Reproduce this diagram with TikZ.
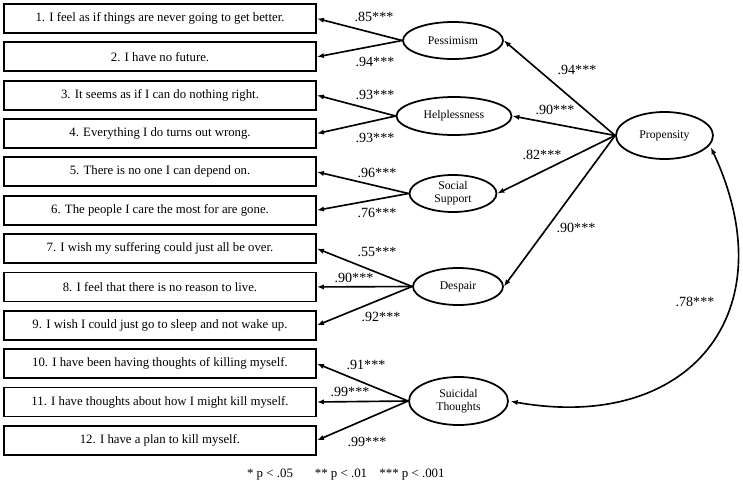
\documentclass[tikz,border=0pt]{standalone}
\usepackage{fontspec}
\setmainfont{Liberation Serif}
\usetikzlibrary{arrows.meta,shapes.geometric}

\tikzset{
  item/.style={draw,line width=1.6pt,minimum width=9.36cm,minimum height=0.87cm,inner sep=0pt,font=\fontsize{10.9}{12}\selectfont},
  latent/.style={ellipse,draw,line width=1.5pt,inner sep=0pt,align=center,font=\fontsize{10}{11}\selectfont},
  load/.style={-{Latex[length=6pt,width=4.5pt]},line width=1.4pt},
  coef/.style={inner sep=0pt,font=\fontsize{12}{12}\selectfont},
}

\begin{document}
\begin{tikzpicture}[x=0.03cm,y=0.03cm]
\useasboundingbox (0,0) rectangle (743,-494);
%item boxes, 1 unit = 1 px of the source
\pgfmathsetmacro{\bx}{160}
\pgfmathsetmacro{\by}{18.5}
\pgfmathsetmacro{\bstep}{38.35}   %distance between boxes
\foreach \n/\txt in {1/{1. I feel as if things are never going to get better.},
  2/{2. I have no future.},
  3/{3. It seems as if I can do nothing right.},
  4/{4. Everything I do turns out wrong.},
  5/{5. There is no one I can depend on.},
  6/{6. The people I care the most for are gone.},
  7/{7. I wish my suffering could just all be over.},
  8/{8. I feel that there is no reason to live.},
  9/{9. I wish I could just go to sleep and not wake up.},
  10/{10. I have been having thoughts of killing myself.},
  11/{11. I have thoughts about how I might kill myself.},
  12/{12. I have a plan to kill myself.}}{
\node[item] (i\n) at (\bx,{-\by-(\n-1)*\bstep}) {\txt};
}
%latent variables
\node[latent,minimum width=3cm,minimum height=1.11cm] (pess) at (453,-40.5) {Pessimism};
\node[latent,minimum width=3.45cm,minimum height=1.14cm] (help) at (454,-116) {Helplessness};
\node[latent,minimum width=2.61cm,minimum height=1.11cm] (soc) at (453,-193.5) {Social\\Support};
\node[latent,minimum width=2.7cm,minimum height=1.11cm] (desp) at (458,-286.5) {Despair};
\node[latent,minimum width=2.97cm,minimum height=1.44cm] (sui) at (458.5,-401) {Suicidal\\Thoughts};
\node[latent,minimum width=2.91cm,minimum height=1.41cm] (prop) at (664.5,-135.5) {Propensity};
%loadings
\foreach \a/\b in {pess/1,pess/2,help/3,help/4,soc/5,soc/6,desp/7,desp/8,desp/9,sui/10,sui/11,sui/12}{
\draw[load] (\a.west) -- (i\b.east);
}
%second order
\foreach \b in {pess,help,soc,desp}{
\draw[load] (prop.west) -- (\b.east);
}
%correlation
\draw[load,{Latex[length=6pt,width=4.5pt]}-{Latex[length=6pt,width=4.5pt]},shorten <=2pt,shorten >=1.5pt]
  (prop.-12) to[out=-65,in=-10,looseness=1.45] (sui.east);
%coefficients
\foreach \n/\x/\y/\v in {1/374/17/.85***, 2/375/62/.94***, 3/375/95/.93***, 4/375/138/.93***,
  5/377/173/.96***, 6/377/213/.76***, 7/377/252/.55***, 8/354/278/.90***, 9/381/317/.92***,
  10/366/365/.91***, 11/350/392/.99***, 12/367/442/.99***,
  p1/577/70/.94***, p2/555/110/.90***, p3/542/155/.82***, p4/576/228/.90***, r/695/302/.78***}{
\node[coef] (c\n) at (\x,-\y) {\v};
}
%footnote
\node[font=\fontsize{11}{12}\selectfont,inner sep=0pt] (f1) at (270,-475) {* p < .05};
\node[font=\fontsize{11}{12}\selectfont,inner sep=0pt] (f2) at (341,-475) {** p < .01};
\node[font=\fontsize{11}{12}\selectfont,inner sep=0pt] (f3) at (412,-475) {*** p < .001};
\end{tikzpicture}
\end{document}
